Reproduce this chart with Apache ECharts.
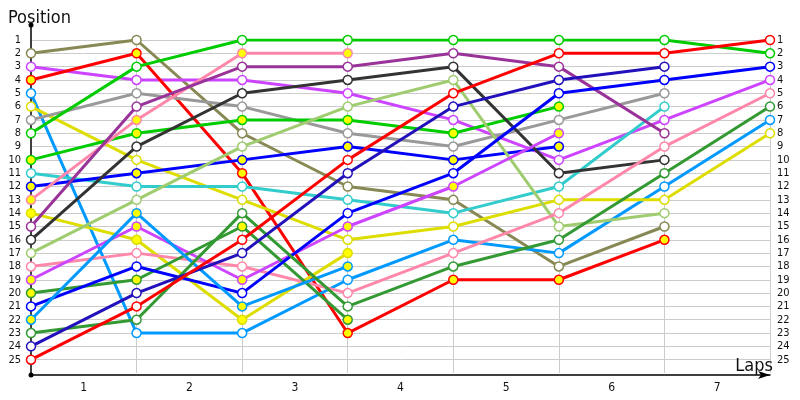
<!DOCTYPE html>
<html>
<head>
<meta charset="utf-8">
<script src="https://cdn.jsdelivr.net/npm/echarts@6/dist/echarts.min.js"></script>
<style>
  html, body { margin: 0; padding: 0; background: #fff; }
  #chart { width: 800px; height: 400px; }
</style>
</head>
<body>
<div id="chart"></div>
<script>
// ---- data ----
const lapPoints = ['0', '1', '2', '3', '4', '5', '6', '7'];   // grid positions (start + 7 laps)
const lapLabels = ['1', '2', '3', '4', '5', '6', '7'];
const positionTicks = [1, 25];   // first/last position shown

// positions per lap (start, lap1..lap7); shorter arrays = retired
const olive   = [2, 1, 8, 12, 13, 18, 15];
const purple1 = [3, 4, 4, 5, 7, 10, 7, 4];
const red1    = [4, 2, 11, 23, 19, 19, 16];
const lblue1  = [5, 23, 23, 19, 16, 17, 12, 7];
const yellow1 = [6, 10, 13, 16, 15, 13, 13, 8];
const grey    = [7, 5, 6, 8, 9, 7, 5];
const green1  = [8, 3, 1, 1, 1, 1, 1, 2];
const green2  = [10, 8, 7, 7, 8, 6];
const teal    = [11, 12, 12, 13, 14, 12, 6];
const blue1   = [12, 11, 10, 9, 10, 9];
const pink1   = [13, 7, 2, 2];
const yellow2 = [14, 16, 22, 17];
const dpurple = [15, 6, 3, 3, 2, 3, 8];
const black   = [16, 9, 5, 4, 3, 11, 10];
const lgreen  = [17, 13, 9, 6, 4, 15, 14];
const pink2   = [18, 17, 18, 20, 17, 14, 9, 5];
const purple2 = [19, 15, 19, 15, 12, 8];
const dgreen1 = [20, 19, 15, 22];
const blue2   = [21, 18, 20, 14, 11, 5, 4, 3];
const lblue2  = [22, 14, 21, 18];
const dgreen2 = [23, 22, 14, 21, 18, 16, 11, 6];
const dblue   = [24, 20, 17, 11, 6, 4, 3];
const red2    = [25, 21, 16, 10, 5, 2, 2, 1];

// ---- styles ----
const W = '#ffffff', Y = '#ffff00';
const drivers = [
  { d: olive,   c: '#888855', f: W },
  { d: purple1, c: '#cc44ff', f: W },
  { d: red1,    c: '#ff0000', f: Y },
  { d: lblue1,  c: '#0099ff', f: W },
  { d: yellow1, c: '#dddd00', f: W },
  { d: grey,    c: '#999999', f: W },
  { d: green1,  c: '#00cc00', f: W },
  { d: green2,  c: '#00cc00', f: Y },
  { d: teal,    c: '#33cccc', f: W },
  { d: blue1,   c: '#0000ff', f: Y },
  { d: pink1,   c: '#ff88aa', f: Y },
  { d: yellow2, c: '#dddd00', f: Y },
  { d: dpurple, c: '#993399', f: W },
  { d: black,   c: '#333333', f: W },
  { d: lgreen,  c: '#a0cc70', f: W },
  { d: pink2,   c: '#ff88aa', f: W },
  { d: purple2, c: '#cc44ff', f: Y },
  { d: dgreen1, c: '#339933', f: Y },
  { d: blue2,   c: '#0000ff', f: W },
  { d: lblue2,  c: '#0099ff', f: Y },
  { d: dgreen2, c: '#339933', f: W },
  { d: dblue,   c: '#2211bb', f: W },
  { d: red2,    c: '#ff0000', f: W }
];

const FONT = 'DejaVu Sans Condensed, DejaVu Sans, sans-serif';
const labelFmt = v => (v >= positionTicks[0] && v <= positionTicks[1]) ? String(v) : '';

const series = drivers.map(dr => ({
  type: 'line',
  xAxisIndex: 0,
  yAxisIndex: 0,
  data: dr.d,
  symbol: 'circle',
  symbolSize: 9,
  showAllSymbol: true,
  lineStyle: { color: dr.c, width: 3 },
  itemStyle: { color: dr.f, borderColor: dr.c, borderWidth: 1.5 },
  emphasis: { disabled: true },
  silent: true
}));

const chart = echarts.init(document.getElementById('chart'), null, { renderer: 'canvas' });
chart.setOption({
  animation: false,
  backgroundColor: '#ffffff',
  title: [
    { text: 'Position', left: 3, top: 4, textStyle: { fontFamily: FONT, fontSize: 18, fontWeight: 'normal', color: '#111' } },
    { text: 'Laps', right: 22, top: 352, textStyle: { fontFamily: FONT, fontSize: 18, fontWeight: 'normal', color: '#111' } }
  ],
  grid: [
    { left: 31, right: 30, top: 40, bottom: 27 },
    { left: 31, right: 30, top: 25, bottom: 25 }
  ],
  xAxis: [
    {
      gridIndex: 0, type: 'category', data: lapPoints, boundaryGap: false,
      axisLine: { show: false }, axisTick: { show: false }, axisLabel: { show: false },
      splitLine: { show: true, showMinLine: false, showMaxLine: true, lineStyle: { color: '#cccccc', width: 1 } }
    },
    {
      gridIndex: 1, type: 'category', data: lapLabels, boundaryGap: true,
      axisLine: { show: true, symbol: ['none', 'arrow'], symbolSize: [6, 12], lineStyle: { color: '#000', width: 1.5 } },
      axisTick: { show: false },
      axisLabel: { margin: 7, fontFamily: FONT, fontSize: 12, color: '#111' },
      splitLine: { show: false }
    }
  ],
  yAxis: [
    {
      gridIndex: 0, type: 'value', inverse: true, min: 1, max: 26, interval: 1,
      axisLine: { show: false }, axisTick: { show: false },
      axisLabel: { margin: 10, fontFamily: FONT, fontSize: 11, color: '#111', formatter: labelFmt },
      splitLine: { show: true, showMinLine: true, showMaxLine: false, lineStyle: { color: '#cccccc', width: 1 } }
    },
    {
      gridIndex: 0, type: 'value', inverse: true, min: 1, max: 26, interval: 1, position: 'right',
      axisLine: { show: false }, axisTick: { show: false },
      axisLabel: { margin: 7, fontFamily: FONT, fontSize: 11, color: '#111', formatter: labelFmt },
      splitLine: { show: false }
    },
    {
      gridIndex: 1, type: 'value', min: 0, max: 1,
      axisLine: { show: true, onZero: false, symbol: ['circle', 'circle'], symbolSize: [5, 5], lineStyle: { color: '#000', width: 1.5 } },
      axisTick: { show: false }, axisLabel: { show: false }, splitLine: { show: false }
    }
  ],
  series: series
});
</script>
</body>
</html>
